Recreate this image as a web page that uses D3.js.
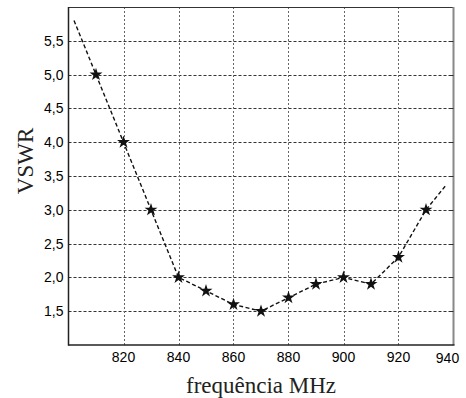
<!DOCTYPE html>
<html>
<head>
<meta charset="utf-8">
<script src="https://cdn.jsdelivr.net/npm/d3@7"></script>
<style>
  html, body { margin: 0; padding: 0; background: #fff; }
  svg { display: block; }
</style>
</head>
<body>
<div id="chart"></div>
<script>
// measured points (stars)
const freqs = [810, 820, 830, 840, 850, 860, 870, 880, 890, 900, 910, 920, 930];
const vswr = [5.0, 4.0, 3.0, 2.0, 1.8, 1.6, 1.5, 1.7, 1.9, 2.0, 1.9, 2.3, 3.0];
// the dashed curve runs a little past the first and last star
const curveStart = [802, 5.8];
const curveEnd = [937, 3.35];

const xTicks = [820, 840, 860, 880, 900, 920, 940];
const yTicks = [1.5, 2.0, 2.5, 3.0, 3.5, 4.0, 4.5, 5.0, 5.5];

const width = 466;
const height = 398;
const margin = { top: 7, right: 12.5, bottom: 53, left: 68.5 };

const svg = d3
  .select("#chart")
  .append("svg")
  .attr("width", width)
  .attr("height", height)
  .attr("viewBox", `0 0 ${width} ${height}`);

const x = d3.scaleLinear().domain([800, 940]).range([margin.left, width - margin.right]);
const y = d3.scaleLinear().domain([1, 6]).range([height - margin.bottom, margin.top]);

const [x0, x1] = x.range();
const [y0, y1] = y.range();

// grid — horizontal lines darker and dashed, vertical ones lighter and dotted
svg
  .append("g")
  .attr("stroke", "#333")
  .attr("stroke-width", 1)
  .attr("stroke-dasharray", "3,2")
  .selectAll("line")
  .data(yTicks)
  .join("line")
  .attr("x1", x0)
  .attr("x2", x1)
  .attr("y1", (d) => Math.round(y(d)) + 0.5)
  .attr("y2", (d) => Math.round(y(d)) + 0.5);

svg
  .append("g")
  .attr("stroke", "#666")
  .attr("stroke-width", 1)
  .attr("stroke-dasharray", "2,2")
  .selectAll("line")
  .data(xTicks.filter((d) => d < 940))
  .join("line")
  .attr("x1", (d) => Math.round(x(d)) + 0.5)
  .attr("x2", (d) => Math.round(x(d)) + 0.5)
  .attr("y1", y0)
  .attr("y2", y1);

// frame
svg.append("line").attr("x1", x0).attr("x2", x1).attr("y1", y1 + 0.5).attr("y2", y1 + 0.5)
  .attr("stroke", "#333").attr("stroke-width", 1);
svg.append("line").attr("x1", x1).attr("x2", x1).attr("y1", y1).attr("y2", y0)
  .attr("stroke", "#888").attr("stroke-width", 2);
svg.append("line").attr("x1", x0).attr("x2", x0).attr("y1", y1).attr("y2", y0 + 0.75)
  .attr("stroke", "#222").attr("stroke-width", 1.5);
svg.append("line").attr("x1", x0).attr("x2", x1 + 1).attr("y1", y0).attr("y2", y0)
  .attr("stroke", "#222").attr("stroke-width", 1.5);

// small inward ticks on the right edge
svg
  .append("g")
  .attr("stroke", "#333")
  .selectAll("line")
  .data(yTicks)
  .join("line")
  .attr("x1", x1 - 4)
  .attr("x2", x1)
  .attr("y1", (d) => Math.round(y(d)) + 0.5)
  .attr("y2", (d) => Math.round(y(d)) + 0.5);

// tick labels
const fmt = (d) => d.toFixed(1).replace(".", ",");

svg
  .append("g")
  .attr("font-family", "'Liberation Sans', Arial, sans-serif")
  .attr("font-size", 14)
  .attr("fill", "#000")
  .attr("text-anchor", "end")
  .selectAll("text")
  .data(yTicks)
  .join("text")
  .attr("x", x0 - 5)
  .attr("y", (d) => y(d))
  .attr("dy", "0.36em")
  .text(fmt);

svg
  .append("g")
  .attr("font-family", "'Liberation Sans', Arial, sans-serif")
  .attr("font-size", 14)
  .attr("fill", "#000")
  .attr("text-anchor", "middle")
  .selectAll("text")
  .data(xTicks)
  .join("text")
  // the last label sits a touch left and lower, as in the original
  .attr("x", (d) => (d === 940 ? x(d) - 6 : x(d)))
  .attr("y", (d) => (d === 940 ? y0 + 18 : y0 + 16.5))
  .text((d) => d);

// axis titles
svg
  .append("text")
  .attr("x", (x0 + x1) / 2)
  .attr("y", 393)
  .attr("text-anchor", "middle")
  .attr("font-family", "'Liberation Serif', 'Times New Roman', serif")
  .attr("font-size", 23)
  .attr("fill", "#222")
  .text("frequência MHz");

svg
  .append("text")
  .attr("transform", "translate(33,161) rotate(-90)")
  .attr("text-anchor", "middle")
  .attr("font-family", "'Liberation Serif', 'Times New Roman', serif")
  .attr("font-size", 23)
  .attr("fill", "#222")
  .text("VSWR");

// dashed curve through the stars
const curve = [curveStart, ...freqs.map((f, i) => [f, vswr[i]]), curveEnd];

svg
  .append("path")
  .datum(curve)
  .attr("fill", "none")
  .attr("stroke", "#111")
  .attr("stroke-width", 1.4)
  .attr("stroke-dasharray", "4,2.5")
  .attr("d", d3.line().x((d) => x(d[0])).y((d) => y(d[1])));

// star markers
svg
  .append("g")
  .attr("fill", "#111")
  .selectAll("path")
  .data(freqs.map((f, i) => [f, vswr[i]]))
  .join("path")
  .attr("transform", (d) => `translate(${x(d[0])},${y(d[1])})`)
  .attr("d", d3.symbol(d3.symbolStar, 52));
</script>
</body>
</html>
